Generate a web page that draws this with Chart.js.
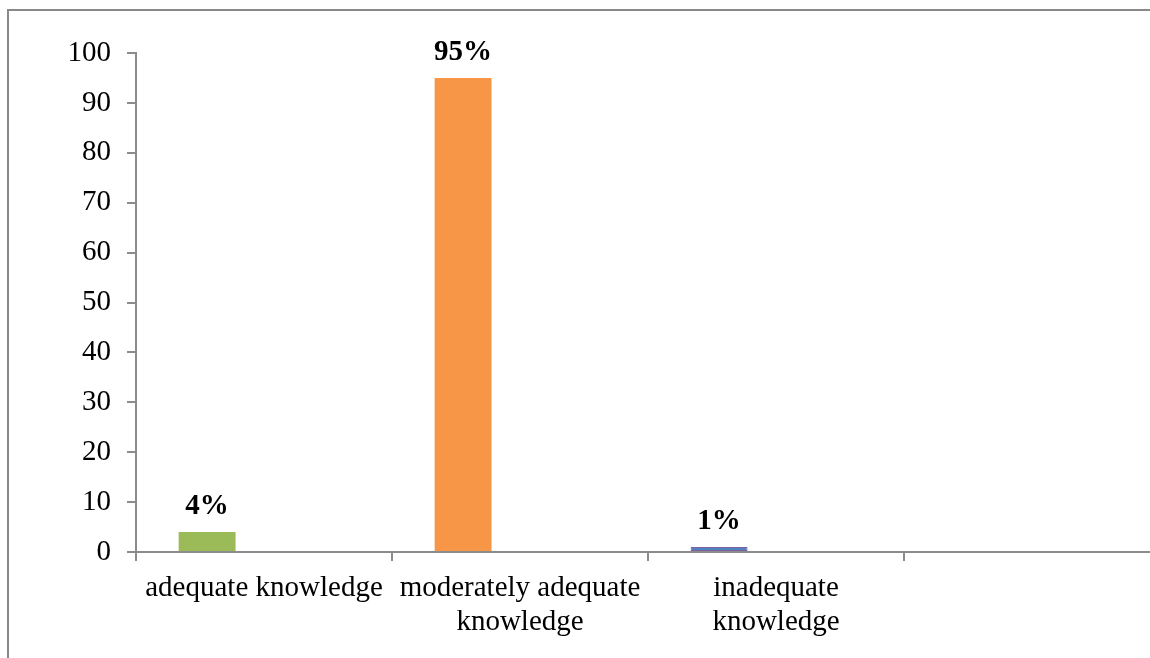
<!DOCTYPE html>
<html><head><meta charset="utf-8">
<script src="https://cdn.jsdelivr.net/npm/chart.js@4"></script>
<style>
html,body{margin:0;padding:0;background:#fff;overflow:hidden;width:1150px;height:658px;}
#wrap{position:absolute;left:0;top:0;width:1150px;height:658px;overflow:hidden;}
#frame{position:absolute;left:7px;top:9px;width:1200px;height:700px;border-left:2px solid #898989;border-top:2px solid #898989;}
#c{position:absolute;left:0;top:0;}
</style></head>
<body>
<div id="wrap">
<div id="frame"></div>
<canvas id="c" width="1170" height="658"></canvas>
</div>
<script>
const categories = ['adequate knowledge', ['moderately adequate', 'knowledge'], ['inadequate', 'knowledge'], ''];
const seriesValues = [4, 95, 1, null];
const emptySeries2 = [null, null, null, null];
const emptySeries3 = [null, null, null, null];
const valueLabels = ['4%', '95%', '1%', ''];
const barColors = ['#9BBB59', '#F79646', '#4F81BD', '#4F81BD'];
const barBorderColors = ['#9BBB59', '#F79646', '#7E5FA4', '#7E5FA4'];
const barBorderWidths = [0, 0, 1, 1];
const yMin = 0, yMax = 100, yStep = 10;

const FONT = '"Liberation Serif", "Times New Roman", serif';
const axisGrey = '#8c8c8c';

const valueLabelPlugin = {
  id: 'valueLabels',
  afterDatasetsDraw(chart) {
    const meta = chart.getDatasetMeta(0);
    const ctx = chart.ctx;
    ctx.save();
    ctx.font = 'bold 29px ' + FONT;
    ctx.fillStyle = '#000';
    ctx.textAlign = 'center';
    ctx.textBaseline = 'alphabetic';
    meta.data.forEach((el, i) => {
      if (seriesValues[i] == null) return;
      ctx.fillText(valueLabels[i], el.x, el.y - 18);
    });
    ctx.restore();
  }
};

new Chart(document.getElementById('c'), {
  type: 'bar',
  data: {
    labels: categories,
    datasets: [
      { data: seriesValues, backgroundColor: barColors, borderColor: barBorderColors, borderWidth: barBorderWidths, borderSkipped: false },
      { data: emptySeries2, backgroundColor: '#C0504D' },
      { data: emptySeries3, backgroundColor: '#8064A2' }
    ]
  },
  options: {
    responsive: false,
    animation: false,
    devicePixelRatio: 1,
    categoryPercentage: 3 / 4.5,
    barPercentage: 1,
    layout: { padding: { top: 53, left: 0, right: 10, bottom: 0 } },
    plugins: { legend: { display: false }, tooltip: { enabled: false } },
    scales: {
      x: {
        grid: { offset: true, drawOnChartArea: false, drawTicks: true, tickLength: 9, color: axisGrey, lineWidth: 2 },
        border: { display: true, color: axisGrey, width: 2 },
        ticks: { color: '#000', font: { family: FONT, size: 29, lineHeight: 1.17 }, padding: 10, maxRotation: 0, autoSkip: false },
        afterFit(scale) { scale.height = 106; }
      },
      y: {
        min: yMin, max: yMax,
        grid: { drawOnChartArea: false, drawTicks: true, tickLength: 9, color: axisGrey, lineWidth: 2 },
        border: { display: true, color: axisGrey, width: 2 },
        ticks: { stepSize: yStep, color: '#000', font: { family: FONT, size: 29 }, padding: 16 },
        afterFit(scale) { scale.width = 136; }
      }
    }
  },
  plugins: [valueLabelPlugin]
});
</script>
</body></html>
